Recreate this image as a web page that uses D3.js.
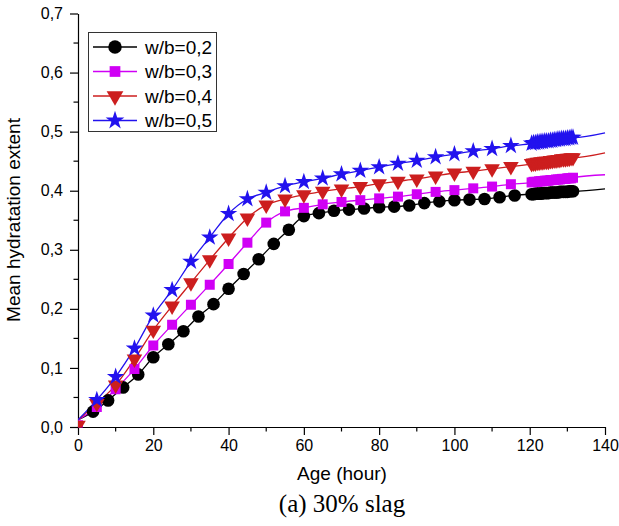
<!DOCTYPE html>
<html>
<head>
<meta charset="utf-8">
<script src="https://cdn.jsdelivr.net/npm/d3@7"></script>
<style>
  body { margin: 0; background: #fff; }
  text { font-family: "Liberation Sans", Arial, sans-serif; }
</style>
</head>
<body>
<svg id="chart" width="619" height="526"></svg>
<script>
// w/b = 0,2 (circles, every 4 h)
var ageB = [4, 8, 12, 16, 20, 24, 28, 32, 36, 40, 44, 48, 52, 56, 60, 64, 68, 72, 76, 80, 84, 88, 92, 96, 100, 104, 108, 112, 116];
var valB = [0.026, 0.045, 0.067, 0.089, 0.118, 0.140, 0.162, 0.187, 0.208, 0.234, 0.259, 0.284, 0.310, 0.334, 0.357, 0.362, 0.366, 0.368, 0.370, 0.372, 0.373, 0.375, 0.379, 0.382, 0.384, 0.385, 0.386, 0.389, 0.392];
// w/b = 0,3 (squares, every 5 h)
var ageM = [0, 5, 10, 15, 20, 25, 30, 35, 40, 45, 50, 55, 60, 65, 70, 75, 80, 85, 90, 95, 100, 105, 110, 115];
var valM = [0.003, 0.034, 0.064, 0.098, 0.138, 0.173, 0.207, 0.241, 0.276, 0.312, 0.346, 0.365, 0.371, 0.377, 0.381, 0.384, 0.387, 0.390, 0.394, 0.398, 0.401, 0.404, 0.407, 0.411];
// w/b = 0,4 (triangles)
var ageR = [0, 5, 10, 15, 20, 25, 30, 35, 40, 45, 50, 55, 60, 65, 70, 75, 80, 85, 90, 95, 100, 105, 110, 115];
var valR = [0.003, 0.040, 0.071, 0.115, 0.164, 0.205, 0.244, 0.283, 0.320, 0.354, 0.376, 0.386, 0.393, 0.399, 0.403, 0.407, 0.412, 0.416, 0.420, 0.425, 0.430, 0.433, 0.437, 0.441];
// w/b = 0,5 (stars)
var ageS = [5, 10, 15, 20, 25, 30, 35, 40, 45, 50, 55, 60, 65, 70, 75, 80, 85, 90, 95, 100, 105, 110, 115];
var valS = [0.046, 0.085, 0.133, 0.189, 0.232, 0.280, 0.321, 0.361, 0.386, 0.397, 0.408, 0.415, 0.421, 0.428, 0.434, 0.440, 0.446, 0.451, 0.457, 0.462, 0.467, 0.471, 0.476];

// dense measurements between 120 and 132 h
var ageDense = [120.5, 121, 121.5, 122, 122.5, 123, 123.5, 124, 124.5, 125, 125.5, 126, 126.5, 127, 127.5, 128, 128.5, 129, 129.5, 130, 130.5, 131, 131.5];
var denseB = [0.394, 0.394, 0.395, 0.395, 0.395, 0.395, 0.396, 0.396, 0.396, 0.396, 0.397, 0.397, 0.397, 0.397, 0.397, 0.398, 0.398, 0.398, 0.398, 0.398, 0.399, 0.399, 0.399];
var denseM = [0.414, 0.415, 0.415, 0.415, 0.416, 0.416, 0.416, 0.417, 0.417, 0.417, 0.418, 0.418, 0.418, 0.419, 0.419, 0.419, 0.420, 0.420, 0.420, 0.421, 0.421, 0.421, 0.422];
var denseR = [0.446, 0.447, 0.447, 0.448, 0.448, 0.449, 0.449, 0.450, 0.450, 0.450, 0.451, 0.451, 0.452, 0.452, 0.453, 0.453, 0.454, 0.454, 0.454, 0.455, 0.455, 0.456, 0.456];
var denseS = [0.480, 0.481, 0.481, 0.482, 0.482, 0.483, 0.483, 0.484, 0.484, 0.484, 0.485, 0.485, 0.486, 0.486, 0.487, 0.487, 0.488, 0.488, 0.488, 0.489, 0.489, 0.490, 0.490];

// fitted curve start (0 h) and end (140 h)
var curveStart = [0.012, 0.012, 0.012, 0.012];
var curveEnd = [0.403, 0.427, 0.464, 0.498];

var seriesNames = ["w/b=0,2", "w/b=0,3", "w/b=0,4", "w/b=0,5"];
var xTicks = [0, 20, 40, 60, 80, 100, 120, 140];
var yTicks = [0, 0.1, 0.2, 0.3, 0.4, 0.5, 0.6, 0.7];

var colors = ["#000000", "#d000f5", "#cc1e1e", "#2212ee"];
var shapes = [d3.symbolCircle, d3.symbolSquare, d3.symbolTriangle, d3.symbolStar];
var sizes = [125, 100, 105, 95];
var rotate = [0, 0, 180, 0];

var raw = [
  {age: ageB, val: valB, dense: denseB},
  {age: ageM, val: valM, dense: denseM},
  {age: ageR, val: valR, dense: denseR},
  {age: ageS, val: valS, dense: denseS}
];

var series = raw.map(function(s, i) {
  var pts = s.age.map(function(a, j) { return {x: a, y: s.val[j]}; })
    .concat(ageDense.map(function(a, j) { return {x: a, y: s.dense[j]}; }));
  var curve = [{x: 0, y: curveStart[i]}]
    .concat(pts.filter(function(p) { return p.x > 0; }))
    .concat([{x: 140, y: curveEnd[i]}]);
  return {name: seriesNames[i], pts: pts, curve: curve, i: i};
});

var svg = d3.select("#chart");

var x = d3.scaleLinear().domain([0, 140]).range([78, 605]);
var y = d3.scaleLinear().domain([0, 0.7]).range([427, 13.5]);

var fmt = function(d) { return d3.format(".1f")(d).replace(".", ","); };

svg.append("defs").append("clipPath").attr("id", "clip")
  .append("rect").attr("x", 78).attr("y", 0).attr("width", 540).attr("height", 427.5);

// minor ticks
svg.append("g").selectAll("line")
  .data(d3.range(10, 140, 20))
  .join("line")
  .attr("x1", function(d) { return x(d); }).attr("x2", function(d) { return x(d); })
  .attr("y1", 427).attr("y2", 431.5)
  .attr("stroke", "#000").attr("stroke-width", 1.2);
svg.append("g").selectAll("line")
  .data(d3.range(0.05, 0.7, 0.1))
  .join("line")
  .attr("x1", 73.5).attr("x2", 78)
  .attr("y1", function(d) { return y(d); }).attr("y2", function(d) { return y(d); })
  .attr("stroke", "#000").attr("stroke-width", 1.2);

// x axis
var xAxis = svg.append("g")
  .attr("transform", "translate(0,427)")
  .call(d3.axisBottom(x).tickValues(xTicks).tickSize(8).tickSizeOuter(0).tickPadding(5));
xAxis.selectAll("text").style("font-size", "16px").attr("fill", "#000");

// y axis
var yAxis = svg.append("g")
  .attr("transform", "translate(78,0)")
  .call(d3.axisLeft(y).tickValues(yTicks).tickFormat(fmt).tickSize(8).tickSizeOuter(0).tickPadding(7));
yAxis.selectAll("text").style("font-size", "16px").attr("fill", "#000");

svg.selectAll(".domain, .tick line").attr("stroke", "#000").attr("stroke-width", 1.2);

// curves
var line = d3.line()
  .x(function(d) { return x(d.x); })
  .y(function(d) { return y(d.y); })
  .curve(d3.curveMonotoneX);

var plot = svg.append("g").attr("clip-path", "url(#clip)");

series.forEach(function(s) {
  plot.append("path")
    .attr("d", line(s.curve))
    .attr("fill", "none")
    .attr("stroke", colors[s.i])
    .attr("stroke-width", 1.3);
});

series.forEach(function(s) {
  plot.append("g").selectAll("path")
    .data(s.pts)
    .join("path")
    .attr("d", d3.symbol().type(shapes[s.i]).size(sizes[s.i]))
    .attr("transform", function(d) {
      return "translate(" + x(d.x) + "," + y(d.y) + ") rotate(" + rotate[s.i] + ")";
    })
    .attr("fill", colors[s.i]);
});

// legend
var legend = svg.append("g");
legend.append("rect")
  .attr("x", 88.5).attr("y", 32.5).attr("width", 128).attr("height", 99)
  .attr("fill", "#fff").attr("stroke", "#333").attr("stroke-width", 1);

var legendRows = [47, 71.5, 96, 120.5];
series.forEach(function(s, i) {
  var g = legend.append("g").attr("transform", "translate(0," + legendRows[i] + ")");
  g.append("line").attr("x1", 93).attr("x2", 137).attr("y1", 0).attr("y2", 0)
    .attr("stroke", colors[i]).attr("stroke-width", 1.3);
  g.append("path")
    .attr("d", d3.symbol().type(shapes[i]).size(sizes[i] * 1.15))
    .attr("transform", "translate(115,0) rotate(" + rotate[i] + ")")
    .attr("fill", colors[i]);
  g.append("text").attr("x", 145).attr("y", 0).attr("dy", "0.35em")
    .style("font-size", "19px").attr("fill", "#000").text(s.name);
});

// axis titles
svg.append("text")
  .attr("x", 342).attr("y", 480)
  .attr("text-anchor", "middle")
  .style("font-size", "19px")
  .text("Age (hour)");

svg.append("text")
  .attr("transform", "translate(20,220) rotate(-90)")
  .attr("text-anchor", "middle")
  .style("font-size", "19px")
  .text("Mean hydratation extent");

svg.append("text")
  .attr("x", 342).attr("y", 512)
  .attr("text-anchor", "middle")
  .style("font-family", "'Liberation Serif', 'DejaVu Serif', serif")
  .style("font-size", "25px")
  .text("(a) 30% slag");
</script>
</body>
</html>
